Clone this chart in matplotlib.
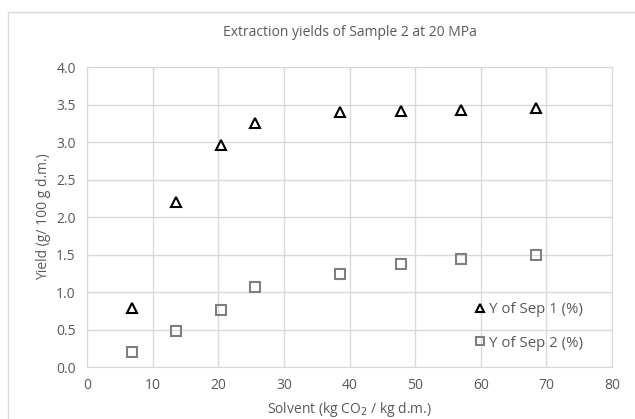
import matplotlib.pyplot as plt
from matplotlib.patches import Rectangle

# data
solvent = [6.8, 13.6, 20.4, 25.6, 38.6, 47.8, 57.0, 68.4]
y_sep1 = [0.79, 2.20, 2.96, 3.25, 3.40, 3.42, 3.43, 3.45]
y_sep2 = [0.20, 0.48, 0.76, 1.07, 1.24, 1.37, 1.44, 1.49]
x_ticks = [0, 10, 20, 30, 40, 50, 60, 70, 80]
y_ticks = [0.0, 0.5, 1.0, 1.5, 2.0, 2.5, 3.0, 3.5, 4.0]

plt.rcParams['font.family'] = ['Open Sans', 'DejaVu Sans']
txt = '#595959'
grid = '#d9d9d9'

fig = plt.figure(figsize=(6.35, 4.19), dpi=100)
fig.patches.append(Rectangle((8 / 635, -0.01), 1.0, 1 - 12 / 419 + 0.01, transform=fig.transFigure,
                             fill=False, edgecolor=grid, linewidth=1))
ax = fig.add_axes([0.137, 0.124, 0.827, 0.716])

ax.plot(solvent, y_sep1, linestyle='none', marker='^', markersize=6.5, markerfacecolor='none',
        markeredgecolor='black', markeredgewidth=1.5, label='Y of Sep 1 (%)')
ax.plot(solvent, y_sep2, linestyle='none', marker='s', markersize=6.5, markerfacecolor='none',
        markeredgecolor='#7f7f7f', markeredgewidth=1.5, label='Y of Sep 2 (%)')

ax.set_xlim(0, 80)
ax.set_ylim(0, 4.0)
ax.set_xticks(x_ticks)
ax.set_yticks(y_ticks)
ax.set_yticklabels([f'{v:.1f}' for v in y_ticks])
ax.grid(True, color=grid, linewidth=1)
ax.set_axisbelow(True)
for s in ax.spines.values():
    s.set_color(grid)
ax.tick_params(colors=txt, labelsize=10, length=0, pad=8)

ax.set_title('Extraction yields of Sample 2 at 20 MPa', color=txt, fontsize=10, pad=22)
ax.set_xlabel(r'Solvent (kg CO$_2$ / kg d.m.)', color=txt, fontsize=10, labelpad=5)
ax.set_ylabel('Yield (g/ 100 g d.m.)', color=txt, fontsize=10, labelpad=4)

leg = ax.legend(loc='lower left', bbox_to_anchor=(0.715, 0.01), frameon=False, fontsize=10.8,
                handlelength=0.5, handletextpad=0.4, labelspacing=1.25, markerscale=0.85)
for t in leg.get_texts():
    t.set_color(txt)

fig.savefig('out.png', dpi=100)
